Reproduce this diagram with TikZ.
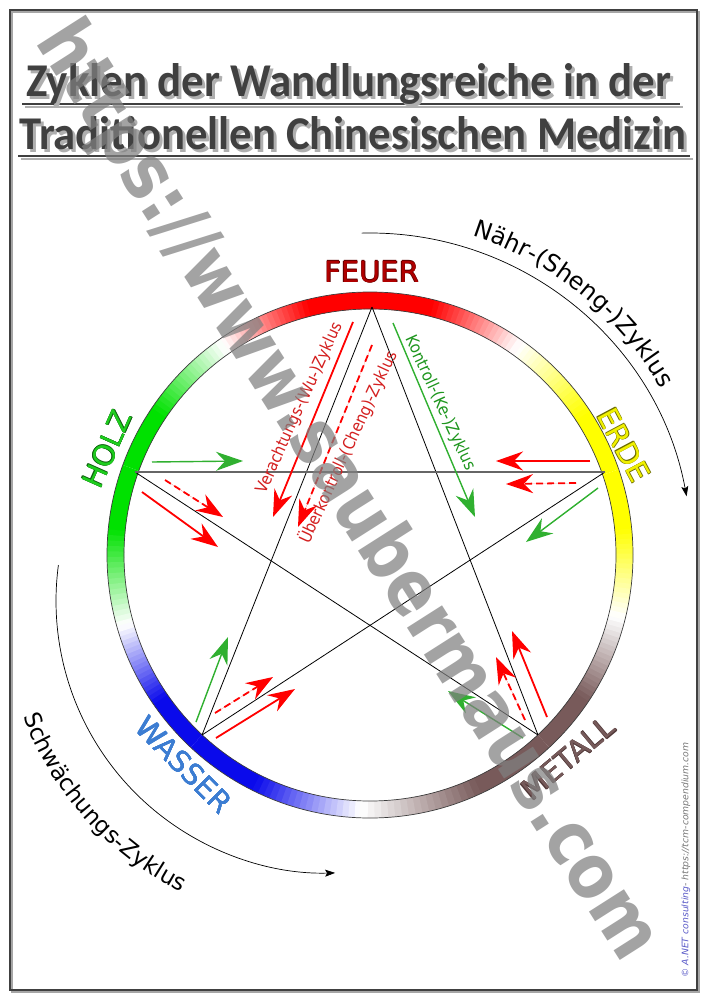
\documentclass[tikz,border=0pt]{standalone}
\usepackage{fontspec}
\setmainfont{DejaVu Sans}
\newfontfamily\titlefont{Carlito}
\usetikzlibrary{arrows.meta,decorations.text}
\definecolor{cfeuer}{RGB}{255,0,0}
\definecolor{cerde}{RGB}{255,255,0}
\definecolor{cmetall}{RGB}{120,90,90}
\definecolor{cwasser}{RGB}{10,10,235}
\definecolor{cholz}{RGB}{0,225,0}
\definecolor{cring}{RGB}{60,60,60}
\definecolor{titlecol}{RGB}{64,64,64}
\definecolor{titleshadow}{RGB}{175,175,175}
\definecolor{arrred}{RGB}{255,0,0}
\definecolor{arrgreen}{RGB}{48,176,48}
\definecolor{txtred}{RGB}{212,32,32}
\definecolor{txtgreen}{RGB}{30,150,30}
\definecolor{lfeuer}{RGB}{176,0,0}
\definecolor{lfeuerO}{RGB}{96,0,0}
\definecolor{lerde}{RGB}{240,240,0}
\definecolor{lerdeO}{RGB}{110,110,0}
\definecolor{lmetall}{RGB}{118,90,90}
\definecolor{lmetallO}{RGB}{80,56,56}
\definecolor{lwasser}{RGB}{60,125,210}
\definecolor{lwasserO}{RGB}{60,125,210}
\definecolor{lholz}{RGB}{30,205,30}
\definecolor{lholzO}{RGB}{16,96,16}
\definecolor{credblue}{RGB}{90,90,200}
\definecolor{credgray}{RGB}{120,120,120}
\definecolor{wmgray}{RGB}{128,128,128}
\newcommand\ringhalf[3]{%
  \foreach \k in {0,...,29}{%
    \pgfmathsetmacro\rA{#1+(#2-#1)*\k/30}%
    \pgfmathsetmacro\rB{#1+(#2-#1)*(\k+1.25)/30}%
    \pgfmathtruncatemacro\rP{max(0,min(100,100*(1-(\k+0.5)/30)/0.6))}%
    \fill[#3!\rP!white] (\rA:246) arc[start angle=\rA,end angle=\rB,radius=246] -- (\rB:263) arc[start angle=\rB,end angle=\rA,radius=263] -- cycle;
  }}
\newcommand\outl[3]{\leavevmode\rlap{\color{#2}\kern-0.4pt #3}\rlap{\color{#2}\kern0.4pt #3}\rlap{\color{#2}\raisebox{0.4pt}{#3}}\rlap{\color{#2}\raisebox{-0.4pt}{#3}}{\color{#1}#3}}
\newcommand\TitleA{\resizebox{645pt}{\height}{\titlefont\bfseries\fontsize{47}{50}\selectfont Zyklen der Wandlungsreiche in der}}
\newcommand\TitleB{\resizebox{667pt}{\height}{\titlefont\bfseries\fontsize{47}{50}\selectfont Traditionellen Chinesischen Medizin}}
\tikzset{
  pent/.style={draw=black,line width=0.8pt},
  penth/.style={draw=black!60,line width=1.3pt},
  headtip/.style={-{Stealth[length=27pt,width=19pt,inset=9pt]}},
  redarrow/.style={draw=arrred,line width=1.8pt,headtip,fill=arrred},
  reddash/.style={redarrow,dash pattern=on 7pt off 4pt},
  greenarrow/.style={draw=arrgreen,line width=1.4pt,headtip,fill=arrgreen},
  cyclearc/.style={draw=black,line width=0.7pt,-{Stealth[length=10pt,width=7pt,inset=2pt]}},
  elabel/.style={inner sep=0pt,font=\fontsize{29}{29}\selectfont},
  alabel/.style={inner sep=0pt},
}
\begin{document}
\begin{tikzpicture}[x=1pt,y=-1pt]
\useasboundingbox (0,0) rectangle (707,1000);
\fill[white] (0,0) rectangle (707,1000);
% frame
\draw[gray!70,line width=2pt] (12,12) rectangle (699,992);
\draw[black!75,line width=1.3pt] (10,10) rectangle (697,990);
% title
\draw[titleshadow,line width=2pt] (25,107) -- (683,107);
\draw[titlecol,line width=1.6pt] (22,104) -- (680,104);
\draw[titleshadow,line width=2pt] (21,159) -- (693,159);
\draw[titlecol,line width=1.6pt] (18,156) -- (690,156);
\node[anchor=base west,inner sep=0pt,text=titleshadow] (t1s) at (29,100) {\TitleA};
\node[anchor=base west,inner sep=0pt,text=titlecol] (t1) at (26,97) {\TitleA};
\node[anchor=base west,inner sep=0pt,text=titleshadow] (t2s) at (22,153) {\TitleB};
\node[anchor=base west,inner sep=0pt,text=titlecol] (t2) at (19,150) {\TitleB};
% ring and cycle arcs
\begin{scope}[shift={(370,555)},y=1pt]
  \ringhalf{19}{54.5}{cerde}
  \ringhalf{90}{54.5}{cfeuer}
  \ringhalf{90}{125}{cfeuer}
  \ringhalf{160}{125}{cholz}
  \ringhalf{160}{196}{cholz}
  \ringhalf{227}{196}{cwasser}
  \ringhalf{227}{268}{cwasser}
  \ringhalf{313}{268}{cmetall}
  \ringhalf{313}{346}{cmetall}
  \ringhalf{379}{346}{cerde}
  \draw[cring,line width=0.7pt] (0,0) circle[radius=246];
  \draw[cring,line width=0.7pt] (0,0) circle[radius=263];
  \draw[cyclearc] (91.5:322) arc[start angle=91.5,end angle=10.5,radius=322];
  \path[decorate,decoration={text along path,text align=center,
     text={|\fontsize{24}{24}\selectfont|Nähr-(Sheng-)Zyklus}}]
     (80:335) arc[start angle=80,end angle=22,radius=335];
\end{scope}
\begin{scope}[shift={(328,601)},y=1pt]
  \draw[cyclearc] (172.4:272) arc[start angle=172.4,end angle=271.5,radius=272];
  \path[decorate,decoration={text along path,text align=center,
     text={|\fontsize{23}{23}\selectfont|Schwächungs-Zyklus}}]
     (196:326) arc[start angle=196,end angle=248,radius=326];
\end{scope}
% pentagram
\coordinate (vF) at (372,307);
\coordinate (vH) at (135,472);
\coordinate (vE) at (605,472);
\coordinate (vW) at (202,735);
\coordinate (vM) at (538,735);
\draw[pent] (vF) -- (vW);
\draw[pent] (vF) -- (vM);
\draw[pent] (vH) -- (vM);
\draw[pent] (vE) -- (vW);
\draw[penth] (vH) -- (vE);
% arrows: coordinates
\coordinate (wu1a) at (353,322); \coordinate (wu1b) at (273,517);
\coordinate (ch1a) at (372,345); \coordinate (ch1b) at (298,527);
\coordinate (ke1a) at (393,323); \coordinate (ke1b) at (475,517);
\coordinate (ke2a) at (152,462); \coordinate (ke2b) at (243,461);
\coordinate (ch2a) at (165,480); \coordinate (ch2b) at (223,517);
\coordinate (wu2a) at (142,492); \coordinate (wu2b) at (218,547);
\coordinate (wu3a) at (590,461); \coordinate (wu3b) at (496,461);
\coordinate (ch3a) at (576,483); \coordinate (ch3b) at (506,484);
\coordinate (ke3a) at (598,488); \coordinate (ke3b) at (526,542);
\coordinate (ke4a) at (196,722); \coordinate (ke4b) at (228,637);
\coordinate (ch4a) at (215,713); \coordinate (ch4b) at (273,677);
\coordinate (wu4a) at (216,738); \coordinate (wu4b) at (295,689);
\coordinate (wu5a) at (547,717); \coordinate (wu5b) at (512,631);
\coordinate (ch5a) at (525,720); \coordinate (ch5b) at (496,657);
\coordinate (ke5a) at (523,738); \coordinate (ke5b) at (448,691);
\draw[redarrow] (wu1a) -- (wu1b);
\draw[reddash] (ch1a) -- (ch1b);
\draw[greenarrow] (ke1a) -- (ke1b);
\draw[greenarrow] (ke2a) -- (ke2b);
\draw[reddash] (ch2a) -- (ch2b);
\draw[redarrow] (wu2a) -- (wu2b);
\draw[redarrow] (wu3a) -- (wu3b);
\draw[reddash] (ch3a) -- (ch3b);
\draw[greenarrow] (ke3a) -- (ke3b);
\draw[greenarrow] (ke4a) -- (ke4b);
\draw[reddash] (ch4a) -- (ch4b);
\draw[redarrow] (wu4a) -- (wu4b);
\draw[redarrow] (wu5a) -- (wu5b);
\draw[reddash] (ch5a) -- (ch5b);
\draw[greenarrow] (ke5a) -- (ke5b);
% arrow labels
\node[alabel,rotate=65.5,text=txtred] (lwu) at (300,408)
  {\resizebox{186pt}{\height}{\fontsize{16.5}{16}\selectfont Verachtungs-(Wu-)Zyklus}};
\node[alabel,rotate=65.2,text=txtred] (lch) at (348,447)
  {\resizebox{210pt}{\height}{\fontsize{16.5}{16}\selectfont Überkontroll-(Cheng)-Zyklus}};
\node[alabel,rotate=-65.3,text=txtgreen] (lke) at (440,403)
  {\resizebox{146pt}{\height}{\fontsize{16.5}{16}\selectfont Kontroll-(Ke-)Zyklus}};
% element labels
\node[elabel] (feuer) at (372,272) {\outl{lfeuer}{lfeuerO}{FEUER}};
\node[elabel,rotate=-62] (erde) at (624,445) {\outl{lerde}{lerdeO}{ERDE}};
\node[elabel,rotate=40] (metall) at (568,758) {\outl{lmetall}{lmetallO}{METALL}};
\node[elabel,rotate=-45] (wasser) at (184,765) {\outl{lwasser}{lwasserO}{WASSER}};
\node[elabel,rotate=66] (holz) at (107,449) {\outl{lholz}{lholzO}{HOLZ}};
% credit
\node[inner sep=0pt,rotate=90] (credit) at (686,860)
  {\resizebox{235pt}{\height}{\fontsize{9}{9}\selectfont\itshape\textcolor{credblue}{© A.NET consulting}\textcolor{credgray}{ - https://tcm-compendium.com}}};
% watermark
\node[inner sep=0pt,rotate=-57.5,text=wmgray,opacity=0.72] (wm) at (346,492)
  {\resizebox{1095pt}{\height}{\bfseries\fontsize{76}{76}\selectfont https://www.saubermaus.com}};
\end{tikzpicture}
\end{document}
